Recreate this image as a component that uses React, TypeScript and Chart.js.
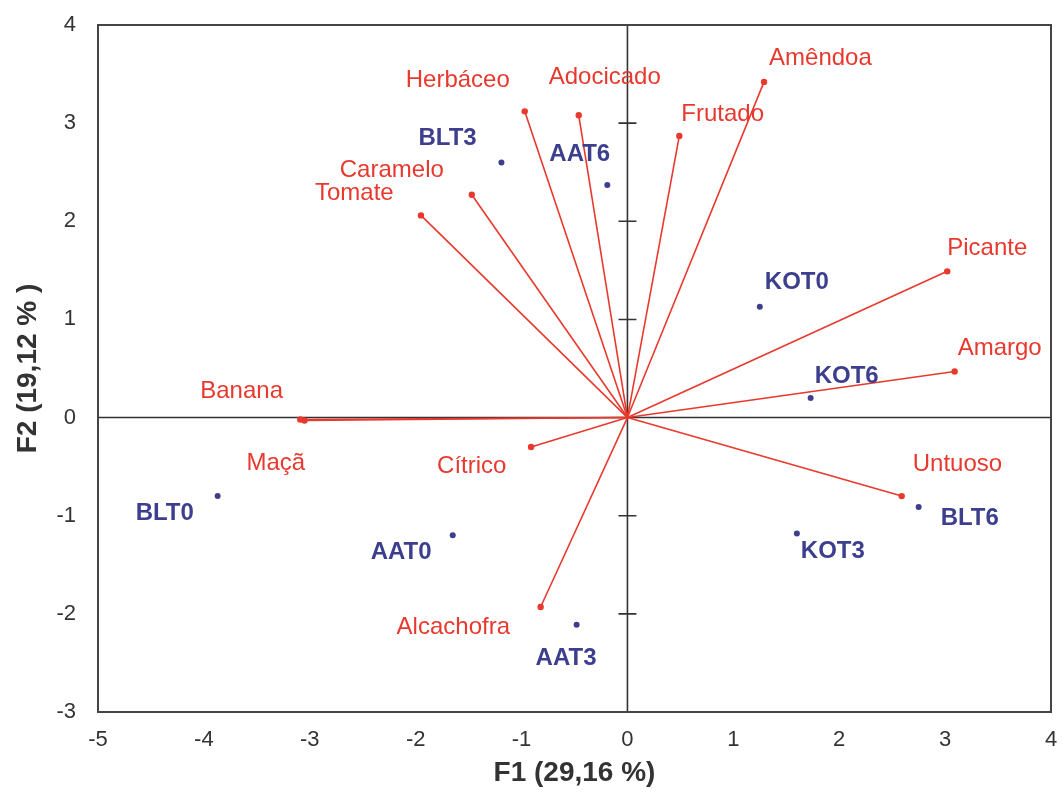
import React, { useEffect, useRef } from "react";
import { Chart, registerables } from "chart.js";

Chart.register(...registerables);

// Variables (red vectors)
const varNames = ["Amêndoa", "Frutado", "Adocicado", "Herbáceo", "Caramelo", "Tomate", "Picante", "Amargo", "Banana", "Maçã", "Cítrico", "Alcachofra", "Untuoso"];
const varF1 = [1.29, 0.49, -0.46, -0.97, -1.47, -1.95, 3.02, 3.09, -3.09, -3.05, -0.91, -0.82, 2.59];
const varF2 = [3.42, 2.87, 3.08, 3.12, 2.27, 2.06, 1.49, 0.47, -0.02, -0.03, -0.30, -1.93, -0.80];

// Observations (blue points)
const obsNames = ["BLT3", "AAT6", "KOT0", "KOT6", "BLT0", "AAT0", "AAT3", "KOT3", "BLT6"];
const obsF1 = [-1.19, -0.19, 1.25, 1.73, -3.87, -1.65, -0.48, 1.60, 2.75];
const obsF2 = [2.60, 2.37, 1.13, 0.20, -0.80, -1.20, -2.11, -1.18, -0.91];

// Axis ranges / titles
const xMin = -5, xMax = 4, yMin = -3, yMax = 4;
const xTitle = "F1 (29,16 %)";
const yTitle = "F2 (19,12 % )";

// Label placement (pixel offset of text left edge / vertical centre from the point)
const varLabelOffsets: [number, number][] = [
  [5, -24], [2, -22], [-30, -38], [-119, -31], [-132, -24], [-106, -22],
  [0, -23], [3, -23], [-100, -28], [-58, 43], [-94, 19], [-144, 20], [11, -32],
];
const obsLabelOffsets: [number, number][] = [
  [-83, -24], [-58, -31], [5, -24], [4, -22], [-82, 17], [-82, 17], [-41, 34], [4, 18], [22, 11],
];

const RED = "#e8392e";
const BLUE = "#3d3f8e";
const FONT = "'Liberation Sans', Arial, sans-serif";

export default function App() {
  const ref = useRef<HTMLCanvasElement | null>(null);
  useEffect(() => {
    if (!ref.current) return;
    const varSets = varNames.map((n, i) => ({
      type: "scatter" as const,
      label: n,
      data: [{ x: 0, y: 0 }, { x: varF1[i], y: varF2[i] }],
      showLine: true,
      borderColor: RED,
      backgroundColor: RED,
      borderWidth: 1.6,
      pointRadius: [0, 3.2],
      pointBorderWidth: 0,
    }));
    const obsSet = {
      type: "scatter" as const,
      label: "obs",
      data: obsF1.map((x, i) => ({ x, y: obsF2[i] })),
      backgroundColor: BLUE,
      borderColor: BLUE,
      pointRadius: 3,
      pointBorderWidth: 0,
    };

    const framePlugin = {
      id: "frame",
      beforeDatasetsDraw(chart: any) {
        const { ctx, chartArea: a, scales } = chart;
        const x0 = scales.x.getPixelForValue(0);
        const y0 = scales.y.getPixelForValue(0);
        ctx.save();
        ctx.strokeStyle = "#333";
        ctx.lineWidth = 1.6;
        ctx.beginPath();
        ctx.moveTo(a.left, y0); ctx.lineTo(a.right, y0);
        ctx.moveTo(x0, a.top); ctx.lineTo(x0, a.bottom);
        for (let v = yMin + 1; v < yMax; v++) {
          if (v === 0) continue;
          const py = scales.y.getPixelForValue(v);
          ctx.moveTo(x0 - 9, py); ctx.lineTo(x0 + 9, py);
        }
        ctx.stroke();
        ctx.strokeStyle = "#444";
        ctx.lineWidth = 2;
        ctx.strokeRect(a.left, a.top, a.right - a.left, a.bottom - a.top);
        ctx.restore();
      },
      afterDatasetsDraw(chart: any) {
        const { ctx, scales } = chart;
        ctx.save();
        ctx.textBaseline = "middle";
        ctx.textAlign = "left";
        ctx.font = `24px ${FONT}`;
        ctx.fillStyle = RED;
        varNames.forEach((n, i) => {
          const px = scales.x.getPixelForValue(varF1[i]);
          const py = scales.y.getPixelForValue(varF2[i]);
          ctx.fillText(n, px + varLabelOffsets[i][0], py + varLabelOffsets[i][1]);
        });
        ctx.font = `bold 24px ${FONT}`;
        ctx.fillStyle = BLUE;
        obsNames.forEach((n, i) => {
          const px = scales.x.getPixelForValue(obsF1[i]);
          const py = scales.y.getPixelForValue(obsF2[i]);
          ctx.fillText(n, px + obsLabelOffsets[i][0], py + obsLabelOffsets[i][1]);
        });
        ctx.restore();
      },
    };

    const chart = new Chart(ref.current, {
      type: "scatter",
      data: { datasets: [...varSets, obsSet] as any },
      options: {
        animation: false,
        responsive: false,
        maintainAspectRatio: false,
        layout: { padding: { top: 25, right: 12, left: 0, bottom: 0 } },
        plugins: { legend: { display: false }, tooltip: { enabled: false } },
        scales: {
          x: {
            type: "linear",
            min: xMin,
            max: xMax,
            afterFit: (s: any) => { s.height = 82; s.paddingLeft = 0; s.paddingRight = 0; },
            ticks: { stepSize: 1, color: "#333", padding: 15, font: { size: 22, family: FONT } },
            grid: { display: false, drawTicks: false },
            border: { display: false },
            title: { display: true, text: xTitle, color: "#333", font: { size: 28, weight: "bold", family: FONT }, padding: { top: 0, bottom: 4 } },
          },
          y: {
            type: "linear",
            min: yMin,
            max: yMax,
            afterFit: (s: any) => { s.width = 98; s.paddingTop = 0; s.paddingBottom = 0; },
            ticks: { stepSize: 1, color: "#333", padding: 22, font: { size: 22, family: FONT } },
            grid: { display: false, drawTicks: false },
            border: { display: false },
            title: { display: true, text: yTitle, color: "#333", font: { size: 28, weight: "bold", family: FONT }, padding: { top: 11, bottom: 0 } },
          },
        },
      },
      plugins: [framePlugin],
    });
    return () => chart.destroy();
  }, []);

  return (
    <div style={{ position: "fixed", left: 0, top: 0, width: 1063, height: 794, background: "#fff" }}>
      <canvas ref={ref} width={1063} height={794} style={{ width: 1063, height: 794 }} />
    </div>
  );
}
